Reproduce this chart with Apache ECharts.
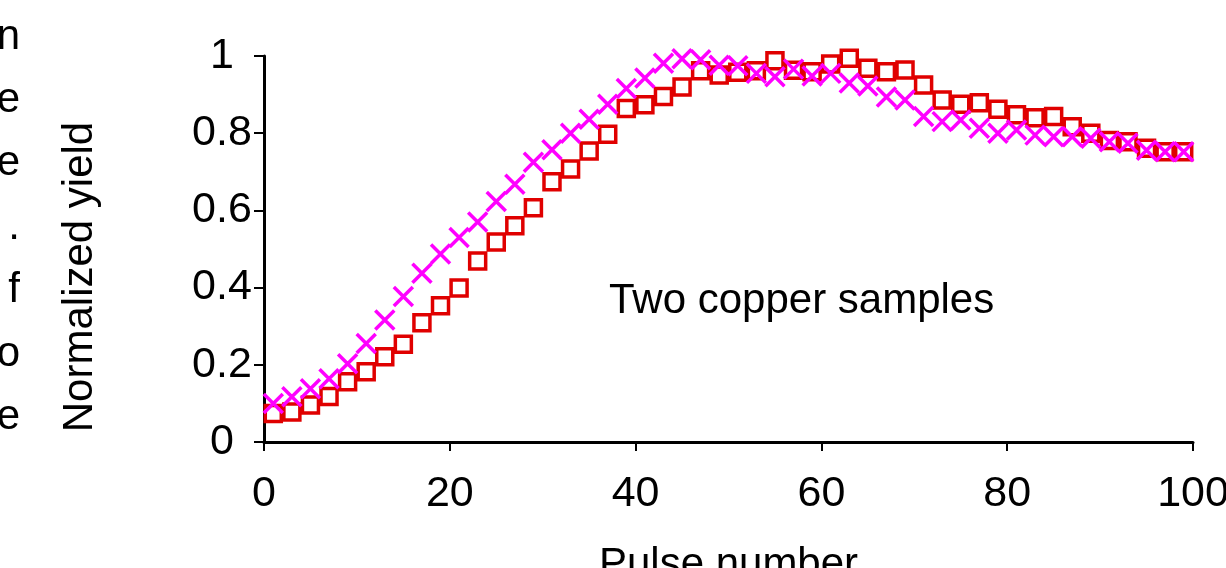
<!DOCTYPE html>
<html>
<head>
<meta charset="utf-8">
<title>Normalized yield vs pulse number</title>
<script src="https://cdn.jsdelivr.net/npm/echarts@6/dist/echarts.min.js"></script>
<style>
    html, body { margin: 0; padding: 0; background: #fff; }
    #chart { width: 1226px; height: 568px; }
</style>
</head>
<body>
<div id="chart"></div>
<script>
// pulse numbers (x) shared by both samples
const pulses = [1, 3, 5, 7, 9, 11, 13, 15, 17, 19, 21, 23, 25, 27, 29, 31, 33, 35, 37, 39,
    41, 43, 45, 47, 49, 51, 53, 55, 57, 59, 61, 63, 65, 67, 69, 71, 73, 75, 77, 79,
    81, 83, 85, 87, 89, 91, 93, 95, 97, 99];

// sample 1 - red squares
const squareYield = [0.074, 0.078, 0.096, 0.118, 0.156, 0.182, 0.221, 0.253, 0.309, 0.353,
    0.399, 0.469, 0.518, 0.560, 0.607, 0.674, 0.707, 0.754, 0.797, 0.864,
    0.874, 0.895, 0.920, 0.962, 0.951, 0.958, 0.962, 0.988, 0.963, 0.959,
    0.979, 0.994, 0.968, 0.959, 0.964, 0.925, 0.886, 0.875, 0.879, 0.862,
    0.848, 0.840, 0.843, 0.817, 0.800, 0.781, 0.778, 0.761, 0.752, 0.752];

// sample 2 - magenta crosses
const crossYield = [0.100, 0.117, 0.138, 0.164, 0.203, 0.255, 0.316, 0.377, 0.437, 0.487,
    0.530, 0.570, 0.623, 0.668, 0.725, 0.757, 0.800, 0.836, 0.875, 0.916,
    0.943, 0.981, 0.993, 0.990, 0.976, 0.975, 0.955, 0.946, 0.966, 0.948,
    0.955, 0.930, 0.922, 0.894, 0.886, 0.843, 0.830, 0.834, 0.813, 0.800,
    0.808, 0.795, 0.791, 0.791, 0.787, 0.778, 0.774, 0.756, 0.752, 0.752];

const xTicks = [0, 20, 40, 60, 80, 100];
const yTicks = [0, 0.2, 0.4, 0.6, 0.8, 1];

// line ends of the neighbouring text column, cut off at the left edge
const sideText = ['n', 'e', 'e', '.', 'f', 'o', 'e'];

const FONT = "'Liberation Sans', Arial, sans-serif";

const chart = echarts.init(document.getElementById('chart'));

const option = {
    backgroundColor: '#fff',
    animation: false,
    grid: {
        left: 264,
        right: 33,
        top: 56,
        bottom: 126,
        containLabel: false,
        outerBoundsMode: 'none'
    },
    xAxis: {
        type: 'value',
        min: xTicks[0],
        max: xTicks[xTicks.length - 1],
        interval: xTicks[1] - xTicks[0],
        name: 'Pulse number',
        nameLocation: 'middle',
        nameGap: 102,
        nameTextStyle: { color: '#000', fontSize: 42, fontFamily: FONT },
        axisLine: { show: true, onZero: false, lineStyle: { color: '#000', width: 3 } },
        axisTick: { show: true, inside: false, length: 9, lineStyle: { color: '#000', width: 2 } },
        axisLabel: { color: '#000', fontSize: 43, fontFamily: FONT, margin: 31 },
        splitLine: { show: false }
    },
    yAxis: {
        type: 'value',
        min: yTicks[0],
        max: yTicks[yTicks.length - 1],
        interval: yTicks[1] - yTicks[0],
        axisLine: { show: true, onZero: false, lineStyle: { color: '#000', width: 3 } },
        axisTick: { show: true, inside: false, length: 10, lineStyle: { color: '#000', width: 2 } },
        axisLabel: {
            color: '#000', fontSize: 43, fontFamily: FONT,
            align: 'center', margin: 42
        },
        splitLine: { show: false }
    },
    series: [
        {
            name: 'Sample 1',
            type: 'scatter',
            symbol: 'rect',
            symbolSize: 16,
            itemStyle: {
                color: 'rgba(0,0,0,0)',
                borderColor: '#e00000',
                borderWidth: 3.5,
                opacity: 1
            },
            data: pulses.map((p, i) => [p, squareYield[i]])
        },
        {
            name: 'Sample 2',
            type: 'scatter',
            symbol: 'path://M0,0L10,10M10,0L0,10',
            symbolSize: 19,
            itemStyle: {
                color: 'rgba(0,0,0,0)',
                borderColor: '#ff00ff',
                borderWidth: 3.5,
                opacity: 1
            },
            data: pulses.map((p, i) => [p, crossYield[i]])
        }
    ],
    graphic: [
        {
            type: 'text',
            x: 80,
            y: 277,
            rotation: Math.PI / 2,
            style: {
                text: 'Normalized yield',
                font: '42px ' + FONT,
                fill: '#000',
                textAlign: 'center',
                textVerticalAlign: 'middle'
            }
        },
        {
            type: 'text',
            x: 609,
            y: 301,
            style: {
                text: 'Two copper samples',
                font: '42px ' + FONT,
                fill: '#000',
                textAlign: 'left',
                textVerticalAlign: 'middle'
            }
        }
    ].concat(sideText.map((t, i) => ({
        type: 'text',
        x: 20,
        y: 37 + i * 63.4,
        style: {
            text: t,
            font: '42px ' + FONT,
            fill: '#000',
            textAlign: 'right',
            textVerticalAlign: 'middle'
        }
    })))
};

chart.setOption(option);

window.addEventListener('resize', () => {
    chart && chart.resize();
});
</script>
</body>
</html>
